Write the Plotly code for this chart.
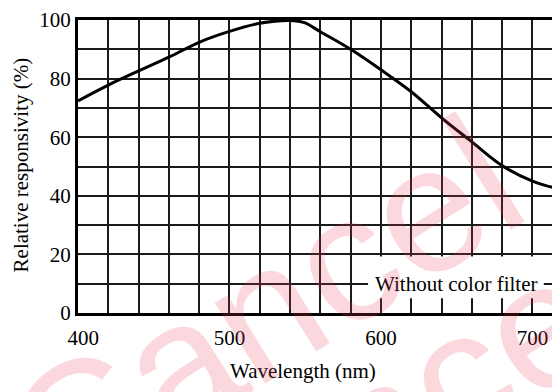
import plotly.graph_objects as go

# Data
wavelength_nm = [400, 420, 440, 460, 480, 500, 520, 530, 540, 545, 550, 560, 580, 600,
                 620, 640, 660, 680, 700, 710, 720]
responsivity_pct = [72.4, 77.8, 82.6, 87.3, 92.4, 96.1, 98.9, 99.6, 99.8, 99.6, 99.0, 96.0,
                    90.0, 83.0, 75.5, 66.6, 58.4, 50.3, 45.0, 43.3, 42.3]

x_tick_vals = [400, 500, 600, 700]
x_tick_text = ["\u2002400", "500", "600", "700"]
y_tick_vals = [0, 20, 40, 60, 80, 100]
y_tick_text = ["0", "20", "40", "60", "80", "100"]

series_label = "Without color filter"
x_title = "Wavelength (nm)"
y_title = "Relative responsivity (%)"
watermark = "Cancel"

FONT = "Liberation Serif, Times New Roman, DejaVu Serif, serif"
FS = 21

fig = go.Figure()
fig.add_trace(go.Scatter(
    x=wavelength_nm, y=responsivity_pct, mode="lines",
    line=dict(color="black", width=3, shape="spline", smoothing=1.0),
    showlegend=False, hoverinfo="skip"))

# white box behind label
fig.add_shape(type="rect", xref="x", yref="y", x0=591.5, x1=707.5, y0=5.0, y1=19.3,
              fillcolor="white", line=dict(width=0), layer="above")

fig.add_annotation(x=649.5, y=10, xref="x", yref="y", text=series_label, showarrow=False,
                   xanchor="center", yanchor="middle",
                   font=dict(family=FONT, size=FS, color="black"))

fig.add_annotation(x=0.466, y=-0.197, xref="paper", yref="paper", text=x_title,
                   showarrow=False, xanchor="center", yanchor="middle",
                   font=dict(family=FONT, size=FS, color="black"))
fig.add_annotation(x=-0.118, y=0.504, xref="paper", yref="paper", text=y_title,
                   showarrow=False, textangle=-90, xanchor="center", yanchor="middle",
                   font=dict(family=FONT, size=FS, color="black"))

# faint diagonal watermark (two rows)
for wx, wy in [(0.386, 0.008), (0.623, -0.389)]:
    fig.add_annotation(x=wx, y=wy, xref="paper", yref="paper", text=watermark,
                       showarrow=False, textangle=-32, xanchor="center", yanchor="middle",
                       font=dict(family="Liberation Sans", size=180,
                                 color="rgba(235,60,90,0.2)"))

fig.update_layout(
    width=552, height=384,
    margin=dict(l=70, r=0, t=3, b=79, pad=0),
    paper_bgcolor="white", plot_bgcolor="white",
    font=dict(family=FONT, size=FS, color="black"),
    showlegend=False,
)
fig.update_xaxes(
    range=[400, 718.2], tickvals=x_tick_vals, ticktext=x_tick_text,
    showgrid=True, gridcolor="#1a1a1a", gridwidth=1.5,
    showline=True, linecolor="black", linewidth=3, mirror=True,
    ticks="", ticklabelstandoff=4, zeroline=False, ticklabeloverflow="allow",
)
fig.update_xaxes(minor=dict(showgrid=True, gridcolor="#1a1a1a", gridwidth=1.5, dtick=20, tick0=400))
fig.update_yaxes(
    range=[0, 100], tickvals=y_tick_vals, ticktext=y_tick_text,
    showgrid=True, gridcolor="#1a1a1a", gridwidth=1.5,
    showline=True, linecolor="black", linewidth=3, mirror=False,
    ticks="", ticklabelstandoff=0, zeroline=False, ticklabeloverflow="allow",
)
fig.update_yaxes(minor=dict(showgrid=True, gridcolor="#1a1a1a", gridwidth=1.5, dtick=10, tick0=0))

fig.write_html("out.html")
